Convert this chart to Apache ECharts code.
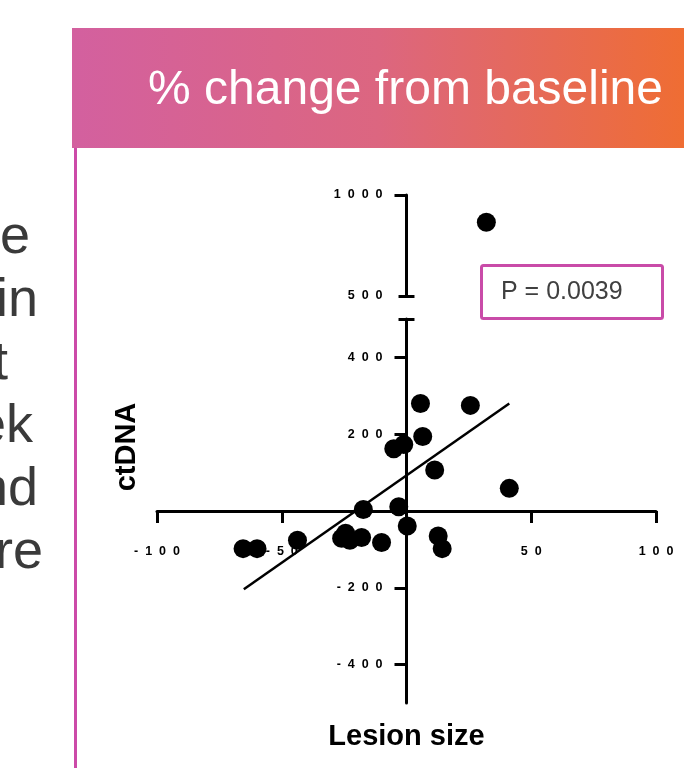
<!DOCTYPE html>
<html>
<head>
<meta charset="utf-8">
<style>
html,body{margin:0;padding:0;background:#fff;}
#chart{width:684px;height:768px;}
</style>
<script src="https://cdn.jsdelivr.net/npm/echarts@6/dist/echarts.min.js"></script>
</head>
<body>
<div id="chart"></div>
<script>
// ---- data ----
var lesionSize = [5.6, 25.6, 6.5, -5.1, -1.1, 11.3, 41.2, -17.3, -3.1, 0.3, -24.4, -26, -22.7, -18, -10, 12.7, 14.3, -43.7, -65.5, -59.9];
var ctDNA      = [280, 275, 194, 162, 173, 107, 59, 4, 11, -39, -58, -71, -76, -69, -82, -65, -98, -76, -98, -98];
var lesionSizeHigh = [32];
var ctDNAHigh      = [865];
var fitX = [-65.2, 41.2];
var fitY = [-204, 280];
var xTickLabels = [-100, -50, 50, 100];
var yTickLabelsLow = [-400, -200, 200, 400];
var yTickLabelsHigh = [500, 1000];
var titleText = '% change from baseline';
var pText = 'P = 0.0039';
var sideFragments = ['e', 'in', 't', 'ek', 'nd', 're'];
var sideRight = [30, 38, 8, 33, 38, 43];

function zip(a, b) { return a.map(function (v, i) { return [v, b[i]]; }); }
function spaced(v) { return String(v).split('').join('  '); }

var chart = echarts.init(document.getElementById('chart'), null, {renderer: 'canvas'});

var GL = 157, GW = 499;            // grid left / width (px)
var UT = 195, UH = 101;            // upper grid top / height
var LT = 319, LH = 384;            // lower grid top / height
var yAxisOffset = -(GW / 2);       // puts y axis at x = 0
var xAxisOffset = -(LH / 2);       // puts x axis at y = 0

var labelStyle = {fontFamily: 'Liberation Sans, Arial', fontWeight: 'bold', fontSize: 12.5, color: '#000'};
var axisLine = {onZero: false, lineStyle: {color: '#000', width: 3}};
var capLine = {
  silent: true, symbol: 'none', label: {show: false},
  lineStyle: {color: '#000', width: 3, type: 'solid'},
  data: [[{coord: [-3.2, 500]}, {coord: [3.2, 500]}]]
};

var graphics = [
  {type: 'rect', shape: {x: 72, y: 28, width: 612, height: 120}, silent: true,
   style: {fill: new echarts.graphic.LinearGradient(0, 0, 1, 0, [
     {offset: 0, color: '#D3609F'}, {offset: 0.5, color: '#DC6680'}, {offset: 1, color: '#EF6D33'}])}},
  {type: 'text', x: 663, y: 91, silent: true,
   style: {text: titleText, fill: '#fff', fontFamily: 'Liberation Sans, Arial', fontSize: 48, align: 'right', verticalAlign: 'middle'}},
  {type: 'rect', shape: {x: 74, y: 148, width: 3, height: 620}, silent: true, style: {fill: '#CC4AA8'}},
  {type: 'rect', shape: {x: 481.5, y: 265.5, width: 181, height: 53, r: 2}, silent: true,
   style: {fill: '#fff', stroke: '#C94BA8', lineWidth: 3}},
  {type: 'text', x: 501, y: 292, silent: true,
   style: {text: pText, fill: '#404040', fontFamily: 'Liberation Sans, Arial', fontSize: 25, align: 'left', verticalAlign: 'middle'}},
  {type: 'text', x: 127, y: 447, rotation: Math.PI / 2, silent: true,
   style: {text: 'ctDNA', fill: '#000', fontFamily: 'Liberation Sans, Arial', fontWeight: 'bold', fontSize: 29, align: 'center', verticalAlign: 'middle'}}
];
sideFragments.forEach(function (t, i) {
  graphics.push({type: 'text', x: sideRight[i], y: 238 + i * 63, silent: true,
    style: {text: t, fill: '#3a3a3a', fontFamily: 'Liberation Sans, Arial', fontSize: 54, align: 'right', verticalAlign: 'middle'}});
});

var option = {
  animation: false,
  backgroundColor: '#fff',
  grid: [
    {left: GL, width: GW, top: UT, height: UH, containLabel: false, outerBoundsMode: 'none'},
    {left: GL, width: GW, top: LT, height: LH, containLabel: false, outerBoundsMode: 'none'}
  ],
  xAxis: [
    {gridIndex: 0, type: 'value', min: -100, max: 100, interval: 50, show: false},
    {gridIndex: 1, type: 'value', min: -100, max: 100, interval: 50,
     position: 'bottom', offset: xAxisOffset,
     axisLine: axisLine,
     axisTick: {show: true, length: 12, lineStyle: {color: '#000', width: 3}},
     axisLabel: Object.assign({customValues: xTickLabels, formatter: spaced, margin: 34}, labelStyle),
     splitLine: {show: false},
     name: 'Lesion size', nameLocation: 'middle', nameGap: 211,
     nameTextStyle: {fontFamily: 'Liberation Sans, Arial', fontWeight: 'bold', fontSize: 29, color: '#000'}}
  ],
  yAxis: [
    {gridIndex: 0, type: 'value', min: 500, max: 1000, interval: 500,
     position: 'left', offset: yAxisOffset,
     axisLine: axisLine,
     axisTick: {show: true, length: 12, customValues: [1000], lineStyle: {color: '#000', width: 3}},
     axisLabel: Object.assign({customValues: yTickLabelsHigh, formatter: spaced, margin: 24}, labelStyle),
     splitLine: {show: false}},
    {gridIndex: 1, type: 'value', min: -500, max: 500,
     position: 'left', offset: yAxisOffset,
     axisLine: axisLine,
     axisTick: {show: true, length: 12, customValues: [-400, -200, 0, 200, 400], lineStyle: {color: '#000', width: 3}},
     axisLabel: Object.assign({customValues: yTickLabelsLow, formatter: spaced, margin: 24}, labelStyle),
     splitLine: {show: false}}
  ],
  series: [
    {type: 'scatter', xAxisIndex: 0, yAxisIndex: 0, symbolSize: 19, itemStyle: {color: '#000', opacity: 1},
     data: zip(lesionSizeHigh, ctDNAHigh), markLine: capLine, z: 5},
    {type: 'line', xAxisIndex: 1, yAxisIndex: 1, symbol: 'none', lineStyle: {color: '#000', width: 2.5},
     data: zip(fitX, fitY), z: 4},
    {type: 'scatter', xAxisIndex: 1, yAxisIndex: 1, symbolSize: 19, itemStyle: {color: '#000', opacity: 1},
     data: zip(lesionSize, ctDNA), markLine: capLine, z: 5}
  ],
  graphic: graphics
};
chart.setOption(option);
</script>
</body>
</html>
